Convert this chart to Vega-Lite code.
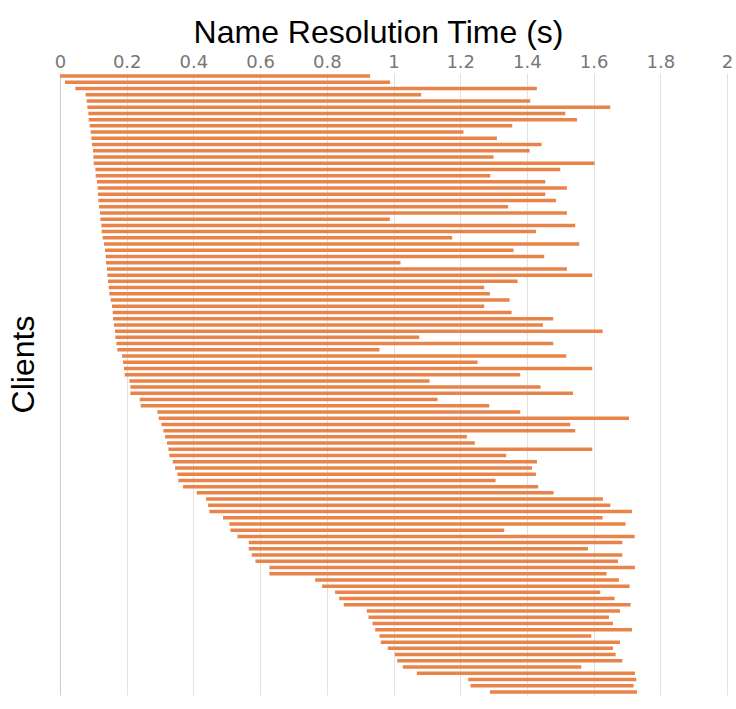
{
  "$schema": "https://vega.github.io/schema/vega-lite/v6.json",
  "width": 667,
  "height": 622,
  "autosize": {"type": "none"},
  "padding": {"left": 60, "top": 73, "right": 9, "bottom": 14},
  "background": "#ffffff",
  "config": {"view": {"stroke": null}},
  "data": {"values": [
    {"client": 1, "start": 0.0, "end": 0.93},
    {"client": 2, "start": 0.015, "end": 0.99},
    {"client": 3, "start": 0.046, "end": 1.43},
    {"client": 4, "start": 0.077, "end": 1.083},
    {"client": 5, "start": 0.08, "end": 1.41},
    {"client": 6, "start": 0.082, "end": 1.65},
    {"client": 7, "start": 0.085, "end": 1.515},
    {"client": 8, "start": 0.086, "end": 1.55},
    {"client": 9, "start": 0.089, "end": 1.356},
    {"client": 10, "start": 0.092, "end": 1.21},
    {"client": 11, "start": 0.094, "end": 1.31},
    {"client": 12, "start": 0.096, "end": 1.444},
    {"client": 13, "start": 0.099, "end": 1.408},
    {"client": 14, "start": 0.1, "end": 1.3},
    {"client": 15, "start": 0.101, "end": 1.603},
    {"client": 16, "start": 0.106, "end": 1.5},
    {"client": 17, "start": 0.107, "end": 1.29},
    {"client": 18, "start": 0.111, "end": 1.455},
    {"client": 19, "start": 0.113, "end": 1.52},
    {"client": 20, "start": 0.114, "end": 1.455},
    {"client": 21, "start": 0.115, "end": 1.487},
    {"client": 22, "start": 0.117, "end": 1.344},
    {"client": 23, "start": 0.12, "end": 1.52},
    {"client": 24, "start": 0.121, "end": 0.989},
    {"client": 25, "start": 0.124, "end": 1.545},
    {"client": 26, "start": 0.125, "end": 1.427},
    {"client": 27, "start": 0.128, "end": 1.176},
    {"client": 28, "start": 0.132, "end": 1.557},
    {"client": 29, "start": 0.135, "end": 1.36},
    {"client": 30, "start": 0.137, "end": 1.452},
    {"client": 31, "start": 0.138, "end": 1.021},
    {"client": 32, "start": 0.141, "end": 1.52},
    {"client": 33, "start": 0.142, "end": 1.596},
    {"client": 34, "start": 0.144, "end": 1.372},
    {"client": 35, "start": 0.146, "end": 1.272},
    {"client": 36, "start": 0.148, "end": 1.289},
    {"client": 37, "start": 0.152, "end": 1.348},
    {"client": 38, "start": 0.156, "end": 1.272},
    {"client": 39, "start": 0.158, "end": 1.354},
    {"client": 40, "start": 0.159, "end": 1.479},
    {"client": 41, "start": 0.162, "end": 1.448},
    {"client": 42, "start": 0.165, "end": 1.627},
    {"client": 43, "start": 0.166, "end": 1.077},
    {"client": 44, "start": 0.169, "end": 1.479},
    {"client": 45, "start": 0.172, "end": 0.958},
    {"client": 46, "start": 0.186, "end": 1.518},
    {"client": 47, "start": 0.189, "end": 1.252},
    {"client": 48, "start": 0.192, "end": 1.596},
    {"client": 49, "start": 0.194, "end": 1.38},
    {"client": 50, "start": 0.208, "end": 1.108},
    {"client": 51, "start": 0.211, "end": 1.441},
    {"client": 52, "start": 0.211, "end": 1.538},
    {"client": 53, "start": 0.239, "end": 1.132},
    {"client": 54, "start": 0.242, "end": 1.287},
    {"client": 55, "start": 0.292, "end": 1.38},
    {"client": 56, "start": 0.296, "end": 1.706},
    {"client": 57, "start": 0.304, "end": 1.53},
    {"client": 58, "start": 0.31, "end": 1.545},
    {"client": 59, "start": 0.315, "end": 1.22},
    {"client": 60, "start": 0.321, "end": 1.244},
    {"client": 61, "start": 0.325, "end": 1.596},
    {"client": 62, "start": 0.328, "end": 1.338},
    {"client": 63, "start": 0.338, "end": 1.43},
    {"client": 64, "start": 0.345, "end": 1.415},
    {"client": 65, "start": 0.352, "end": 1.427},
    {"client": 66, "start": 0.355, "end": 1.306},
    {"client": 67, "start": 0.369, "end": 1.434},
    {"client": 68, "start": 0.41, "end": 1.48},
    {"client": 69, "start": 0.438, "end": 1.628},
    {"client": 70, "start": 0.444, "end": 1.65},
    {"client": 71, "start": 0.448, "end": 1.715},
    {"client": 72, "start": 0.489, "end": 1.627},
    {"client": 73, "start": 0.508, "end": 1.696},
    {"client": 74, "start": 0.511, "end": 1.332},
    {"client": 75, "start": 0.532, "end": 1.723},
    {"client": 76, "start": 0.566, "end": 1.686},
    {"client": 77, "start": 0.566, "end": 1.583},
    {"client": 78, "start": 0.575, "end": 1.686},
    {"client": 79, "start": 0.586, "end": 1.673},
    {"client": 80, "start": 0.628, "end": 1.724},
    {"client": 81, "start": 0.628, "end": 1.639},
    {"client": 82, "start": 0.765, "end": 1.676},
    {"client": 83, "start": 0.786, "end": 1.708},
    {"client": 84, "start": 0.825, "end": 1.62},
    {"client": 85, "start": 0.837, "end": 1.663},
    {"client": 86, "start": 0.851, "end": 1.711},
    {"client": 87, "start": 0.92, "end": 1.679},
    {"client": 88, "start": 0.925, "end": 1.646},
    {"client": 89, "start": 0.937, "end": 1.658},
    {"client": 90, "start": 0.945, "end": 1.715},
    {"client": 91, "start": 0.958, "end": 1.593},
    {"client": 92, "start": 0.962, "end": 1.679},
    {"client": 93, "start": 0.983, "end": 1.658},
    {"client": 94, "start": 1.004, "end": 1.666},
    {"client": 95, "start": 1.011, "end": 1.686},
    {"client": 96, "start": 1.028, "end": 1.563},
    {"client": 97, "start": 1.07, "end": 1.724},
    {"client": 98, "start": 1.224, "end": 1.728},
    {"client": 99, "start": 1.231, "end": 1.72},
    {"client": 100, "start": 1.289, "end": 1.73}
  ]},
  "mark": {"type": "bar", "color": "#E8834A", "size": 3.5},
  "encoding": {
    "y": {
      "field": "client",
      "type": "ordinal",
      "scale": {"paddingInner": 0, "paddingOuter": 0},
      "axis": {
        "title": "Clients",
        "labels": false,
        "ticks": false,
        "tickSize": 0,
        "domain": false,
        "grid": false,
        "titleFont": "Liberation Sans",
        "titleFontSize": 32,
        "titleFontWeight": "normal",
        "titleColor": "#000000",
        "titlePadding": 20,
        "titleY": 291
      }
    },
    "x": {
      "field": "start",
      "type": "quantitative",
      "scale": {"domain": [0, 2], "nice": false, "zero": false},
      "axis": {
        "orient": "top",
        "title": "Name Resolution Time (s)",
        "values": [0, 0.2, 0.4, 0.6, 0.8, 1, 1.2, 1.4, 1.6, 1.8, 2],
        "format": "~g",
        "ticks": false,
        "tickSize": 0,
        "domain": false,
        "grid": true,
        "gridColor": {"condition": {"test": "datum.value === 0", "value": "#cccccc"}, "value": "#e2e2e2"},
        "gridWidth": 1,
        "labelFont": "DejaVu Sans",
        "labelFontSize": 18,
        "labelFontWeight": "normal",
        "labelColor": "#777777",
        "labelPadding": 2,
        "labelFlush": false,
        "titleFont": "Liberation Sans",
        "titleFontSize": 32,
        "titleFontWeight": "normal",
        "titleColor": "#000000",
        "titlePadding": 4,
        "titleX": 318
      }
    },
    "x2": {"field": "end"}
  }
}
